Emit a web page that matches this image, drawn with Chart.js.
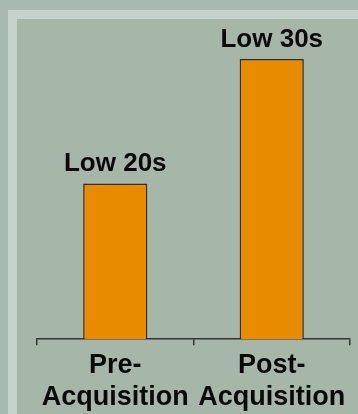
<!DOCTYPE html>
<html>
<head>
<meta charset="utf-8">
<script src="https://cdn.jsdelivr.net/npm/chart.js@4/dist/chart.umd.min.js"></script>
<style>
  html, body { margin: 0; padding: 0; }
  body { width: 358px; height: 414px; background: #a8b9ad; position: relative; overflow: hidden; }
  /* marco claro arriba e izquierda */
  .frame {
    position: absolute; left: 8px; top: 10px; right: -20px; bottom: -20px;
    border-left: 9px solid #c4d4c8; border-top: 9px solid #c4d4c8;
    background: #a6b7aa;
  }
  .wrap { position: absolute; left: 0; top: 0; width: 358px; height: 418px; }
</style>
</head>
<body>
<div class="frame"></div>
<div class="wrap"><canvas id="myChart" width="358" height="418"></canvas></div>
<script>
/* datos del grafico */
const categories = [['Pre-', 'Acquisition'], ['Post-', 'Acquisition']];
const values = [20, 36];
const barLabels = ['Low 20s', 'Low 30s'];

/* plugin que escribe la etiqueta encima de cada barra */
const barText = {
    id: 'barText',
    afterDatasetsDraw(chart) {
        const ctx = chart.ctx;
        const meta = chart.getDatasetMeta(0);
        ctx.save();
        ctx.font = 'bold 26px "Liberation Sans", Arial, sans-serif';
        ctx.fillStyle = '#0a0a0a';
        ctx.textAlign = 'center';
        ctx.textBaseline = 'alphabetic';
        meta.data.forEach((bar, i) => {
            ctx.fillText(barLabels[i], bar.x, bar.y - 12);
        });
        ctx.restore();
    }
};

const ctx = document.getElementById('myChart');

const chart = new Chart(ctx, {
    type: 'bar',
    data: {
        labels: categories,
        datasets: [{
            data: values,
            backgroundColor: '#ea8c02',
            borderColor: '#3a2a10',
            borderWidth: 1.5,
            borderSkipped: 'bottom',
            barPercentage: 0.41,
            categoryPercentage: 1
        }]
    },
    options: {
        responsive: false,
        animation: false,
        layout: { padding: { left: 37, right: 8, top: 20, bottom: 0 } },
        plugins: { legend: { display: false }, tooltip: { enabled: false } },
        scales: {
            x: {
                offset: true,
                grid: {
                    display: true,
                    offset: true,
                    drawOnChartArea: false,
                    tickLength: 6,
                    color: '#333',
                    lineWidth: 1.5
                },
                border: { display: true, color: '#333', width: 1.5 },
                ticks: {
                    color: '#0a0a0a',
                    padding: 4,
                    font: { family: '"Liberation Sans", Arial, sans-serif', size: 27, weight: 'bold', lineHeight: 1.2 }
                }
            },
            y: {
                display: false,
                min: 0,
                max: 41
            }
        }
    },
    plugins: [barText]
});
</script>
</body>
</html>
